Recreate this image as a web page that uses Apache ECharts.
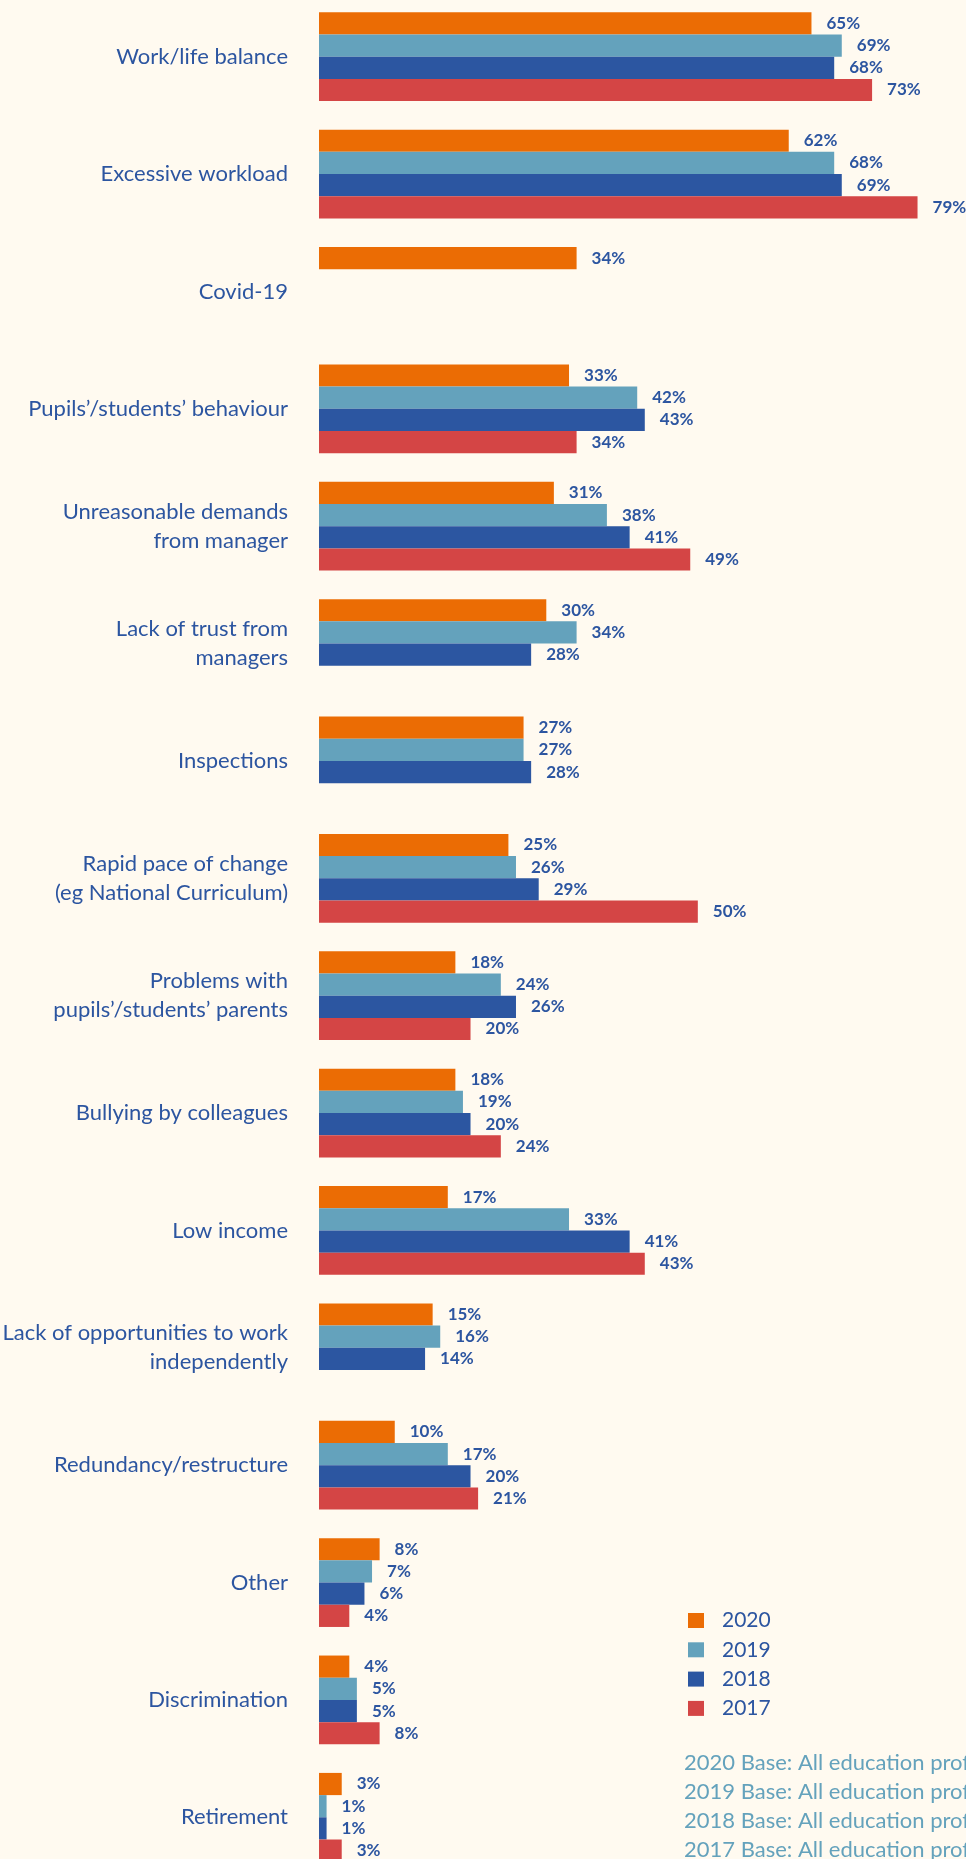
<!DOCTYPE html>
<html>
<head>
<meta charset="utf-8">
<script src="https://cdn.jsdelivr.net/npm/echarts@6/dist/echarts.min.js"></script>
<style>
  html, body { margin: 0; padding: 0; background: #fffaf0; }
  #chart { width: 966px; height: 1859px; }
</style>
</head>
<body>
<div id="chart"></div>
<script>
const categories = [
  'Work/life balance',
  'Excessive workload',
  'Covid-19',
  'Pupils’/students’ behaviour',
  'Unreasonable demands\nfrom manager',
  'Lack of trust from\nmanagers',
  'Inspections',
  'Rapid pace of change\n(eg National Curriculum)',
  'Problems with\npupils’/students’ parents',
  'Bullying by colleagues',
  'Low income',
  'Lack of opportunities to work\nindependently',
  'Redundancy/restructure',
  'Other',
  'Discrimination',
  'Retirement',
]

const years = ['2020', '2019', '2018', '2017']

const values2020 = [65, 62, 34, 33, 31, 30, 27, 25, 18, 18, 17, 15, 10, 8, 4, 3]
const values2019 = [69, 68, null, 42, 38, 34, 27, 26, 24, 19, 33, 16, 17, 7, 5, 1]
const values2018 = [68, 69, null, 43, 41, 28, 28, 29, 26, 20, 41, 14, 20, 6, 5, 1]
const values2017 = [73, 79, null, 34, 49, null, null, 50, 20, 24, 43, null, 21, 4, 8, 3]

const footnotes = [
  '2020 Base: All education professionals',
  '2019 Base: All education professionals',
  '2018 Base: All education professionals',
  '2017 Base: All education professionals',
]

const colors = ['#eb6c04', '#64a2bc', '#2c56a1', '#d44545']
const textColor = '#2c55a0'
const fontFamily = 'Lato, "Noto Sans", sans-serif'

const chart = echarts.init(document.getElementById('chart'))

function makeSeries(name, data, color) {
  return {
    name,
    type: 'bar',
    data,
    barWidth: 22.2,
    barGap: '0%',
    itemStyle: { color },
    label: {
      show: true,
      position: 'right',
      distance: 15,
      formatter: (p) => (p.value == null ? '' : p.value + '%'),
      color: textColor,
      fontFamily,
      fontWeight: 'bold',
      fontSize: 17,
    },
  }
}

const option = {
  backgroundColor: '#fffaf0',
  animation: false,
  grid: {
    left: 319,
    top: -2,
    width: 644,
    height: 1878,
    outerBoundsMode: 'none',
  },
  xAxis: {
    type: 'value',
    min: 0,
    max: 85,
    show: false,
  },
  yAxis: {
    type: 'category',
    data: categories,
    inverse: true,
    axisLine: { show: false },
    axisTick: { show: false },
    splitLine: { show: false },
    axisLabel: {
      color: textColor,
      fontFamily,
      fontSize: 22,
      lineHeight: 29,
      margin: 31,
      align: 'right',
    },
  },
  legend: {
    data: years,
    orient: 'vertical',
    left: 683,
    top: 1605,
    icon: 'rect',
    itemWidth: 16,
    itemHeight: 15,
    itemGap: 8.3,
    textStyle: {
      color: textColor,
      fontFamily,
      fontSize: 21,
      lineHeight: 21,
      padding: [0, 0, 0, 13],
    },
  },
  graphic: footnotes.map((t, i) => ({
    type: 'text',
    left: 684,
    top: 1752 + i * 29,
    style: {
      text: t,
      fill: '#64a2bc',
      fontFamily,
      fontSize: 22,
    },
  })),
  series: [
    makeSeries(years[0], values2020, colors[0]),
    makeSeries(years[1], values2019, colors[1]),
    makeSeries(years[2], values2018, colors[2]),
    makeSeries(years[3], values2017, colors[3]),
  ],
}

chart.setOption(option)
</script>
</body>
</html>
